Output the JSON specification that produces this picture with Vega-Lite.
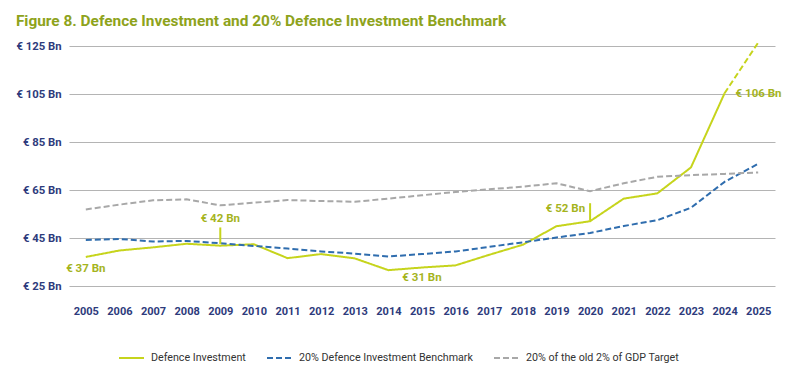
{
  "$schema": "https://vega.github.io/schema/vega-lite/v6.json",
  "width": 706,
  "height": 240,
  "autosize": {"type": "none"},
  "padding": {"left": 69, "top": 46, "right": 28, "bottom": 105},
  "background": "#ffffff",
  "title": {
    "text": "Figure 8. Defence Investment and 20% Defence Investment Benchmark",
    "anchor": "start",
    "font": "Roboto",
    "fontSize": 15.4,
    "fontWeight": "bold",
    "color": "#8EA31C",
    "offset": 9
  },
  "config": {
    "view": {"stroke": null},
    "axis": {"labelFont": "Roboto", "labelFontWeight": "bold", "labelColor": "#2E3B7C", "labelFontSize": 11, "domain": false, "ticks": false, "title": null}
  },
  "datasets": {
    "series": [
      {"year": "2005", "series": "Defence Investment", "value": 37.1},
      {"year": "2006", "series": "Defence Investment", "value": 39.8},
      {"year": "2007", "series": "Defence Investment", "value": 41.1},
      {"year": "2008", "series": "Defence Investment", "value": 42.6},
      {"year": "2009", "series": "Defence Investment", "value": 41.8},
      {"year": "2010", "series": "Defence Investment", "value": 42.4},
      {"year": "2011", "series": "Defence Investment", "value": 36.6},
      {"year": "2012", "series": "Defence Investment", "value": 38.3},
      {"year": "2013", "series": "Defence Investment", "value": 36.5},
      {"year": "2014", "series": "Defence Investment", "value": 31.6},
      {"year": "2015", "series": "Defence Investment", "value": 32.7},
      {"year": "2016", "series": "Defence Investment", "value": 33.6},
      {"year": "2017", "series": "Defence Investment", "value": 38.0},
      {"year": "2018", "series": "Defence Investment", "value": 42.2},
      {"year": "2019", "series": "Defence Investment", "value": 49.9},
      {"year": "2020", "series": "Defence Investment", "value": 52.0},
      {"year": "2021", "series": "Defence Investment", "value": 61.4},
      {"year": "2022", "series": "Defence Investment", "value": 63.6},
      {"year": "2023", "series": "Defence Investment", "value": 74.4},
      {"year": "2024", "series": "Defence Investment", "value": 105.3},
      {"year": "2025", "series": "Defence Investment", "value": 126.4},
      {"year": "2005", "series": "20% Defence Investment Benchmark", "value": 44.2},
      {"year": "2006", "series": "20% Defence Investment Benchmark", "value": 44.6},
      {"year": "2007", "series": "20% Defence Investment Benchmark", "value": 43.5},
      {"year": "2008", "series": "20% Defence Investment Benchmark", "value": 43.8},
      {"year": "2009", "series": "20% Defence Investment Benchmark", "value": 42.8},
      {"year": "2010", "series": "20% Defence Investment Benchmark", "value": 41.7},
      {"year": "2011", "series": "20% Defence Investment Benchmark", "value": 40.6},
      {"year": "2012", "series": "20% Defence Investment Benchmark", "value": 39.4},
      {"year": "2013", "series": "20% Defence Investment Benchmark", "value": 38.5},
      {"year": "2014", "series": "20% Defence Investment Benchmark", "value": 37.3},
      {"year": "2015", "series": "20% Defence Investment Benchmark", "value": 38.3},
      {"year": "2016", "series": "20% Defence Investment Benchmark", "value": 39.4},
      {"year": "2017", "series": "20% Defence Investment Benchmark", "value": 41.3},
      {"year": "2018", "series": "20% Defence Investment Benchmark", "value": 43.2},
      {"year": "2019", "series": "20% Defence Investment Benchmark", "value": 45.2},
      {"year": "2020", "series": "20% Defence Investment Benchmark", "value": 47.1},
      {"year": "2021", "series": "20% Defence Investment Benchmark", "value": 50.0},
      {"year": "2022", "series": "20% Defence Investment Benchmark", "value": 52.4},
      {"year": "2023", "series": "20% Defence Investment Benchmark", "value": 57.6},
      {"year": "2024", "series": "20% Defence Investment Benchmark", "value": 68.4},
      {"year": "2025", "series": "20% Defence Investment Benchmark", "value": 75.9},
      {"year": "2005", "series": "20% of the old 2% of GDP Target", "value": 56.9},
      {"year": "2006", "series": "20% of the old 2% of GDP Target", "value": 58.9},
      {"year": "2007", "series": "20% of the old 2% of GDP Target", "value": 60.7},
      {"year": "2008", "series": "20% of the old 2% of GDP Target", "value": 61.1},
      {"year": "2009", "series": "20% of the old 2% of GDP Target", "value": 58.6},
      {"year": "2010", "series": "20% of the old 2% of GDP Target", "value": 59.7},
      {"year": "2011", "series": "20% of the old 2% of GDP Target", "value": 60.8},
      {"year": "2012", "series": "20% of the old 2% of GDP Target", "value": 60.4},
      {"year": "2013", "series": "20% of the old 2% of GDP Target", "value": 60.1},
      {"year": "2014", "series": "20% of the old 2% of GDP Target", "value": 61.4},
      {"year": "2015", "series": "20% of the old 2% of GDP Target", "value": 62.8},
      {"year": "2016", "series": "20% of the old 2% of GDP Target", "value": 64.2},
      {"year": "2017", "series": "20% of the old 2% of GDP Target", "value": 65.3},
      {"year": "2018", "series": "20% of the old 2% of GDP Target", "value": 66.4},
      {"year": "2019", "series": "20% of the old 2% of GDP Target", "value": 67.8},
      {"year": "2020", "series": "20% of the old 2% of GDP Target", "value": 64.5},
      {"year": "2021", "series": "20% of the old 2% of GDP Target", "value": 67.8},
      {"year": "2022", "series": "20% of the old 2% of GDP Target", "value": 70.5},
      {"year": "2023", "series": "20% of the old 2% of GDP Target", "value": 71.2},
      {"year": "2024", "series": "20% of the old 2% of GDP Target", "value": 71.7},
      {"year": "2025", "series": "20% of the old 2% of GDP Target", "value": 72.3}
    ]
  },
  "encoding": {
    "x": {"field": "year", "type": "ordinal", "scale": {"type": "point", "padding": 0.5},
      "axis": {"labelAngle": 0, "labelPadding": 19, "grid": false}},
    "y": {"field": "value", "type": "quantitative", "scale": {"domain": [25, 125], "nice": false, "zero": false},
      "axis": {"values": [25, 45, 65, 85, 105, 125], "labelExpr": "'€ ' + datum.value + ' Bn'", "labelPadding": 8, "labelFontSize": 11.3, "grid": true, "gridColor": "#B4B4B4", "gridWidth": 1}}
  },
  "layer": [
    {
      "data": {"name": "series"},
      "transform": [{"filter": "!(datum.series === 'Defence Investment' && datum.year === '2025')"}],
      "mark": {"type": "line", "strokeWidth": 2, "clip": false},
      "encoding": {
        "color": {"field": "series", "type": "nominal",
          "scale": {"domain": ["Defence Investment", "20% Defence Investment Benchmark", "20% of the old 2% of GDP Target"], "range": ["#C6D41C", "#2F6DAE", "#A8A8A8"]},
          "legend": {"orient": "none", "legendX": 49, "legendY": 298, "direction": "horizontal", "title": null, "symbolType": "stroke", "symbolSize": 625, "symbolStrokeWidth": 2, "labelFont": "Roboto", "labelFontSize": 10.7, "labelLimit": 400, "labelColor": "#333333", "labelOffset": 6, "columnPadding": 17}},
        "strokeDash": {"field": "series", "type": "nominal",
          "scale": {"domain": ["Defence Investment", "20% Defence Investment Benchmark", "20% of the old 2% of GDP Target"], "range": [[1, 0], [6, 3], [6, 3]]},
          "legend": {"orient": "none", "legendX": 49, "legendY": 298, "direction": "horizontal", "title": null, "symbolType": "stroke", "symbolSize": 625, "symbolStrokeWidth": 2, "labelFont": "Roboto", "labelFontSize": 10.7, "labelLimit": 400, "labelColor": "#333333", "labelOffset": 6, "columnPadding": 17}}
      }
    },
    {
      "data": {"name": "series"},
      "transform": [{"filter": "datum.series === 'Defence Investment' && (datum.year === '2024' || datum.year === '2025')"}],
      "mark": {"type": "line", "strokeWidth": 2, "strokeDash": [6, 3], "color": "#C6D41C", "clip": false},
      "encoding": {}
    },
    {
      "data": {"values": [{"year": "2009", "lo": 42.5, "hi": 49.4}, {"year": "2020", "lo": 52.3, "hi": 59.5}]},
      "mark": {"type": "rule", "color": "#C6D41C", "strokeWidth": 2},
      "encoding": {"y": {"field": "lo", "type": "quantitative"}, "y2": {"field": "hi"}}
    },
    {
      "data": {"values": [
        {"year": "2005", "value": 32.0, "label": "€ 37 Bn"},
        {"year": "2009", "value": 52.8, "label": "€ 42 Bn"},
        {"year": "2015", "value": 28.2, "label": "€ 31 Bn"}
      ]},
      "mark": {"type": "text", "font": "Roboto", "fontSize": 11.5, "fontWeight": "bold", "color": "#A5B41E", "align": "center", "baseline": "middle"},
      "encoding": {"text": {"field": "label"}}
    },
    {
      "data": {"values": [{"year": "2020", "value": 57.1, "label": "€ 52 Bn"}]},
      "mark": {"type": "text", "font": "Roboto", "fontSize": 11.5, "fontWeight": "bold", "color": "#A5B41E", "align": "right", "baseline": "middle", "dx": -5},
      "encoding": {"text": {"field": "label"}}
    },
    {
      "data": {"values": [{"year": "2024", "value": 105.0, "label": "€ 106 Bn"}]},
      "mark": {"type": "text", "font": "Roboto", "fontSize": 11.5, "fontWeight": "bold", "color": "#A5B41E", "align": "left", "baseline": "middle", "dx": 11},
      "encoding": {"text": {"field": "label"}}
    }
  ]
}
